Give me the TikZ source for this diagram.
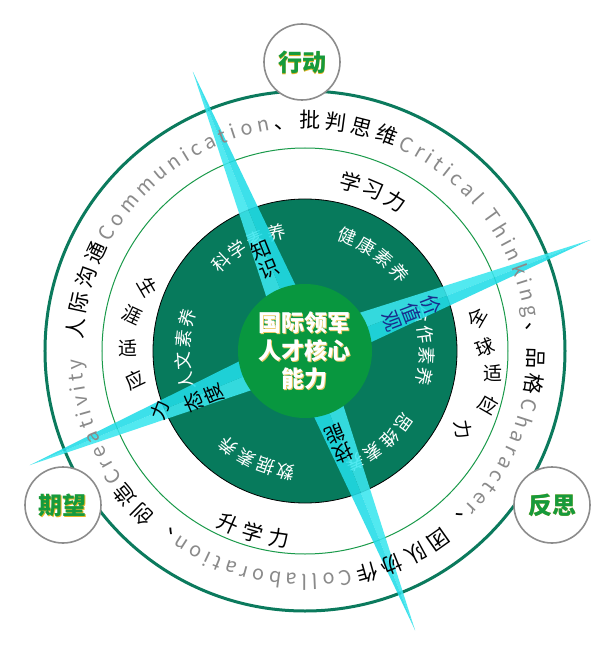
\documentclass[tikz,border=0pt]{standalone}
\usepackage{fontspec}
\setmainfont{Noto Sans CJK SC}
\usetikzlibrary{calc,decorations.text}
\definecolor{outerg}{HTML}{0B7A5D}
\definecolor{ringg}{HTML}{1A9A4A}
\definecolor{diskg}{HTML}{077A5C}
\definecolor{centerg}{HTML}{08973F}
\definecolor{beamA}{HTML}{3BE7EF}
\definecolor{beamB}{HTML}{22DCE8}
\definecolor{lblg}{HTML}{169A3C}
\definecolor{lblshadow}{HTML}{E6B422}
\definecolor{txtgray}{HTML}{8A8A8A}
\definecolor{circgray}{HTML}{8C8C8C}
\definecolor{navyt}{HTML}{1A2C8C}
\newcommand\cnfmt{\fontsize{21}{21}\selectfont\color{black}}
\newcommand\enfmt{\fontsize{20}{20}\selectfont\color{txtgray}}
% #1 start angle, #2 signed step, #3 rotation offset, #4 radius, #5 style, #6 name, #7 chars
\newcommand\ringtext[7]{%
  \foreach \ch [count=\i] in {#7}{%
    \pgfmathsetmacro\ang{#1+(\i-1)*(#2)}%
    \node[#5, rotate={\ang+#3}] (#6-\i) at (\ang:#4) {\ch};
  }}
\tikzset{
  lblcircle/.style={circle, draw=circgray, line width=1.6pt, fill=white, minimum size=76pt, inner sep=0pt},
  lbltxt/.style={font=\fontsize{24}{24}\selectfont\bfseries, text=lblg, inner sep=0pt},
  whitetxt/.style={font=\fontsize{18}{18}\selectfont, text=white, inner sep=0pt},
  midtxt/.style={font=\fontsize{21}{21}\selectfont, text=black, inner sep=0pt},
  sidetxt/.style={font=\fontsize{19}{19}\selectfont, text=black, inner sep=0pt},
  beamtxt/.style={font=\fontsize{20}{21}\selectfont, text=black, inner sep=0pt, align=center},
}
\begin{document}
\begin{tikzpicture}[x=1pt,y=1pt]
\fill[white] (-305,-305) rectangle (306,351);
\useasboundingbox (-305,-305) rectangle (306,351);
\coordinate (O) at (0,0);
% outer ring
\draw[outerg, line width=3pt] (O) circle[radius=260];
% label circles
\node[lblcircle] (c1) at (-3,289) {};
\node[lblcircle] (c2) at (-242,-154) {};
\node[lblcircle] (c3) at (247,-154) {};
\foreach \n/\t in {c1/行动, c2/期望, c3/反思}{
  \node[lbltxt, text=lblshadow] (\n s) at ($(\n)+(0.9,-0.9)$) {\t};
  \node[lbltxt] (\n t) at (\n) {\t};
}
% thin ring
\draw[ringg, line width=1pt] (O) circle[radius=203];
% disk
\filldraw[fill=diskg, draw=black, line width=0.8pt] (O) circle[radius=152];
% inner white texts
\ringtext{133.5}{-10}{-90}{122}{whitetxt}{ka}{科,学,素,养}
\ringtext{69.5}{-10}{-90}{122}{whitetxt}{kb}{健,康,素,养}
\ringtext{17.6}{-10}{-90}{122}{whitetxt}{kc}{合,作,素,养}
\ringtext{-36}{-10}{-90}{122}{whitetxt}{kd}{思,维,素,养}
\ringtext{-99}{-10}{-90}{122}{whitetxt}{ke}{数,据,素,养}
\ringtext{194.5}{-10}{-90}{122}{whitetxt}{kf}{人,文,素,养}
% beams
\coordinate (tU) at (-112,279);
\coordinate (tD) at (110,-279);
\coordinate (tR) at (285,111);
\coordinate (tL) at (-275,-114);
\foreach \t in {tU,tD,tR,tL}{
  \fill[beamA, opacity=0.88] (O) -- ($(O)!20pt!90:(\t)$) -- (\t) -- cycle;
  \fill[beamB, opacity=0.88] (O) -- ($(O)!20pt!-90:(\t)$) -- (\t) -- cycle;
}
% center
\fill[centerg] (O) circle[radius=67];
\node[font=\fontsize{23}{28}\selectfont\bfseries, text=lblshadow!70!white, align=center, inner sep=0pt] (ctrs) at (0.8,-0.8) {国际领军\\人才核心\\能力};
\node[font=\fontsize{23}{28}\selectfont\bfseries, text=white, align=center, inner sep=0pt] (ctr) at (O) {国际领军\\人才核心\\能力};
% beam labels
\node[beamtxt, rotate=22] (bU) at (113.5:100) {知\\识};
\node[beamtxt, rotate=-69, text=navyt] (bR) at (19.6:113) {价\\值\\观};
\node[beamtxt, rotate=113] (bL) at (205:112) {态\\度};
\node[beamtxt, rotate=-158] (bD) at (-70:99) {技\\能};
% middle ring texts
\ringtext{75}{-8}{-90}{175}{midtxt}{ma}{学,习,力}
\ringtext{-114}{8}{90}{189}{midtxt}{mb}{升,学,力}
\foreach \ch/\x/\y/\r [count=\i] in {全/172/34/60, 球/180/4/20, 适/188/-22/0, 应/183/-54/-30, 力/158/-79/-80}{
  \node[sidetxt, rotate=\r] (mr-\i) at (\x,\y) {\ch};
}
\foreach \ch/\x/\y/\r [count=\i] in {生/-157/64/-60, 涯/-173/36/-25, 适/-177/3/0, 应/-170/-29/25, 力/-145/-59/70}{
  \node[sidetxt, rotate=\r] (ml-\i) at (\x,\y) {\ch};
}
% outer ring text
\path[decorate, decoration={text along path, text align=fit to path,
  text={|\cnfmt|人际沟通|\enfmt|Communication|\cnfmt|、批判思维|\enfmt|Critical Thinking|\cnfmt|、品格|\enfmt|Character|\cnfmt|、团队协作|\enfmt|Collaboration|\cnfmt|、创造|\enfmt|Creativity}}]
  (177:223) arc[start angle=177, end angle=-178, radius=223];
\end{tikzpicture}
\end{document}
